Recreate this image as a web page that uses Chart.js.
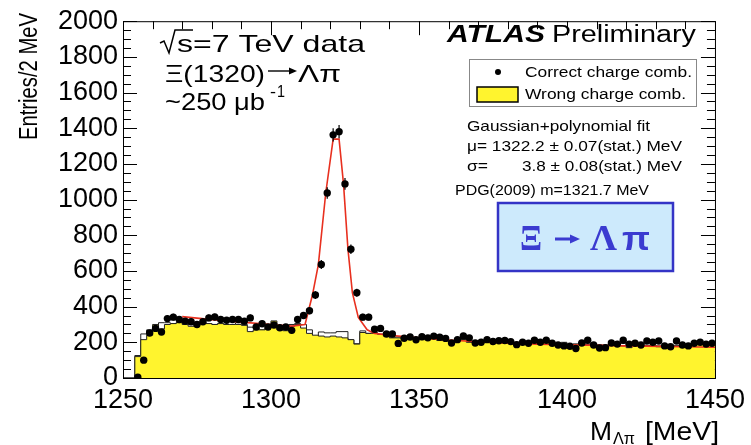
<!DOCTYPE html>
<html>
<head>
<meta charset="utf-8">
<script src="https://cdn.jsdelivr.net/npm/chart.js@4.4.0/dist/chart.umd.min.js"></script>
<style>
  html, body { margin: 0; padding: 0; background: #fff; }
  canvas { display: block; }
</style>
</head>
<body>
<canvas id="xiMass" width="751" height="445"></canvas>
<script>
// Lambda-pi invariant mass, 2 MeV bins between 1250 and 1450 MeV
const massMin = 1250, massMax = 1450, binWidth = 2;
const binCenters = Array.from({ length: 100 }, (_, i) => massMin + binWidth * (i + 0.5));

// Correct charge combinations (points)
const correctCharge = [
  0, 0, 5, 100, 252, 278, 258, 333, 341, 328,
  319, 315, 300, 315, 337, 342, 328, 324, 328, 328,
  319, 337, 286, 304, 286, 297, 282, 286, 267, 328,
  350, 377, 465, 636, 1037, 1363, 1381, 1088, 722, 478,
  341, 341, 273, 278, 247, 247, 194, 223, 230, 214,
  231, 225, 235, 228, 222, 196, 215, 236, 225, 196,
  200, 215, 205, 209, 210, 204, 187, 200, 195, 212,
  200, 212, 195, 185, 180, 178, 165, 196, 212, 185,
  168, 170, 196, 190, 212, 190, 195, 185, 207, 200,
  207, 180, 175, 207, 185, 180, 195, 200, 190, 195
];

// Wrong charge combinations (yellow histogram)
const wrongCharge = [
  0, 0, 0, 120, 215, 240, 300, 275, 300, 305,
  310, 300, 290, 300, 310, 305, 300, 305, 300, 300,
  300, 295, 260, 270, 270, 280, 320, 270, 265, 290,
  300, 280, 250, 240, 235, 230, 235, 230, 225, 215,
  190, 255, 250, 250, 245, 235, 225, 225, 215, 220,
  225, 215, 220, 220, 210, 210, 205, 215, 215, 200,
  205, 200, 205, 210, 200, 200, 195, 200, 205, 200,
  195, 190, 200, 195, 190, 195, 185, 190, 200, 185,
  190, 185, 180, 185, 190, 180, 170, 185, 190, 180,
  185, 175, 170, 165, 180, 185, 175, 185, 190, 195
];

// Wrong charge combinations, outline only
const wrongChargeLine = [
  0, 0, 0, 126, 247, 270, 285, 310, 310, 305,
  310, 300, 300, 300, 320, 305, 300, 305, 300, 300,
  310, 300, 285, 280, 270, 290, 300, 280, 270, 300,
  305, 300, 270, 214, 258, 253, 253, 260, 260, 214,
  192, 264, 250, 255, 245, 240, 225, 230, 215, 225,
  225, 220, 225, 220, 215, 210, 210, 215, 215, 205,
  205, 205, 205, 210, 205, 200, 195, 200, 205, 200,
  205, 190, 200, 195, 190, 200, 185, 190, 200, 190,
  195, 185, 185, 185, 190, 195, 170, 190, 190, 180,
  185, 180, 185, 180, 180, 185, 180, 185, 190, 195
];

// Gaussian + polynomial fit curve
const fitMass = [1270, 1280, 1290, 1300, 1307, 1311.5, 1314, 1316, 1318.5, 1321, 1323, 1324.5, 1326, 1327.5, 1329.5, 1332.5, 1335, 1340, 1350, 1360, 1370, 1380, 1390, 1400, 1420, 1440, 1450];
const fitEntries = [344, 327, 313, 300, 291, 300, 465, 636, 1037, 1339, 1339, 1088, 722, 478, 340, 270, 250, 240, 225, 213, 203, 195, 190, 186, 180, 175, 172];

const massTicks = [1250, 1300, 1350, 1400, 1450];
const entryTicks = [0, 200, 400, 600, 800, 1000, 1200, 1400, 1600, 1800, 2000];

const yellow = '#fff42e';
const sans = '"Liberation Sans", Arial, Helvetica, sans-serif';

// histogram as a stepped line through the bin edges
function stepPoints(values) {
  const pts = values.map((v, i) => ({ x: massMin + binWidth * i, y: v }));
  pts.push({ x: massMax, y: values[values.length - 1] });
  return pts;
}

// draw a string squeezed/stretched to a given width
function textAt(ctx, str, x, y, font, width, color) {
  ctx.font = font;
  ctx.fillStyle = color || '#000';
  ctx.textAlign = 'left';
  ctx.textBaseline = 'alphabetic';
  const w = ctx.measureText(str).width;
  ctx.save();
  ctx.translate(x, y);
  if (width) ctx.scale(width / w, 1);
  ctx.fillText(str, 0, 0);
  ctx.restore();
}

// right arrow drawn as a shaft and a filled head
function arrow(ctx, x0, x1, y, lw, head, color) {
  ctx.save();
  ctx.strokeStyle = color;
  ctx.fillStyle = color;
  ctx.lineWidth = lw;
  ctx.beginPath();
  ctx.moveTo(x0, y);
  ctx.lineTo(x1 - head, y);
  ctx.stroke();
  ctx.beginPath();
  ctx.moveTo(x1, y);
  ctx.lineTo(x1 - head, y - head * 0.45);
  ctx.lineTo(x1 - head, y + head * 0.45);
  ctx.closePath();
  ctx.fill();
  ctx.restore();
}

// inward tick marks on all four sides of the frame
const frameTicks = {
  id: 'frameTicks',
  beforeDatasetsDraw(chart) {
    const { ctx, chartArea: a, scales: { x, y } } = chart;
    ctx.save();
    ctx.strokeStyle = '#000';
    ctx.lineWidth = 1;
    ctx.beginPath();
    for (let v = 0; v <= 2000; v += 50) {
      const py = Math.round(y.getPixelForValue(v)) + 0.5;
      const len = v % 200 === 0 ? 14 : 8;
      ctx.moveTo(a.left, py); ctx.lineTo(a.left + len, py);
      ctx.moveTo(a.right, py); ctx.lineTo(a.right - len, py);
    }
    for (let m = massMin; m <= massMax; m += 10) {
      const px = Math.round(x.getPixelForValue(m)) + 0.5;
      const len = m % 50 === 0 ? 14 : 8;
      ctx.moveTo(px, a.top); ctx.lineTo(px, a.top + len);
      ctx.moveTo(px, a.bottom); ctx.lineTo(px, a.bottom - len);
    }
    ctx.stroke();
    ctx.restore();
  },
  afterDatasetsDraw(chart) {
    const { ctx, chartArea: a, scales: { x, y } } = chart;
    ctx.save();
    // statistical error bars on the points
    ctx.strokeStyle = '#000';
    ctx.lineWidth = 1.2;
    ctx.beginPath();
    correctCharge.forEach((v, i) => {
      if (v <= 0) return;
      const px = x.getPixelForValue(binCenters[i]);
      const e = Math.sqrt(v);
      ctx.moveTo(px, y.getPixelForValue(v + e));
      ctx.lineTo(px, y.getPixelForValue(v - e));
    });
    ctx.stroke();
    // frame
    ctx.lineWidth = 1;
    ctx.strokeRect(a.left + 0.5, a.top + 0.5, a.right - a.left, a.bottom - a.top);
    ctx.restore();
  }
};

// labels, legend and decay box
const annotations = {
  id: 'annotations',
  afterDraw(chart) {
    const ctx = chart.ctx;
    ctx.save();

    // y axis title
    ctx.save();
    ctx.translate(37, 140);
    ctx.rotate(-Math.PI / 2);
    textAt(ctx, 'Entries/2 MeV', 0, 0, '25px ' + sans, 127);
    ctx.restore();

    // x axis title
    textAt(ctx, 'M', 590, 440, '26px ' + sans, 22);
    textAt(ctx, '\u039B\u03C0', 613, 444, '16px ' + sans, 22);
    textAt(ctx, '[MeV]', 645, 440, '26px ' + sans, 74);

    // sqrt(s) = 7 TeV data
    ctx.strokeStyle = '#000';
    ctx.lineWidth = 1.5;
    ctx.beginPath();
    ctx.moveTo(160, 43); ctx.lineTo(164, 41); ctx.lineTo(169, 53); ctx.lineTo(175, 30); ctx.lineTo(193, 30);
    ctx.stroke();
    textAt(ctx, 's=7 TeV data', 177, 52, '24px ' + sans, 188);
    textAt(ctx, '\u039E(1320)', 165, 82, '24px ' + sans, 100);
    arrow(ctx, 268, 297, 71, 1.4, 8, '#000');
    textAt(ctx, '\u039B\u03C0', 298, 82, '24px ' + sans, 43);
    textAt(ctx, '~250 \u03BCb', 165, 110, '24px ' + sans, 100);
    textAt(ctx, '-', 270, 97, '16px ' + sans, 6);
    textAt(ctx, '1', 277, 97, '16px ' + sans, 8);

    // ATLAS Preliminary
    textAt(ctx, 'ATLAS', 447, 42, 'italic bold 23px ' + sans, 98);
    textAt(ctx, 'Preliminary', 552, 42, '23px ' + sans, 144);

    // legend
    ctx.fillStyle = '#fff';
    ctx.fillRect(469, 59, 227, 47);
    ctx.strokeStyle = '#888';
    ctx.lineWidth = 1;
    ctx.strokeRect(469.5, 59.5, 227, 47);
    ctx.fillStyle = '#000';
    ctx.beginPath();
    ctx.arc(498, 72, 3, 0, Math.PI * 2);
    ctx.fill();
    ctx.fillStyle = yellow;
    ctx.fillRect(477, 87, 41, 15);
    ctx.strokeStyle = '#000';
    ctx.lineWidth = 1.5;
    ctx.strokeRect(477, 87, 41, 15);
    textAt(ctx, 'Correct charge comb.', 525, 77, '14px ' + sans, 167);
    textAt(ctx, 'Wrong charge comb.', 525, 99, '14px ' + sans, 161);

    // fit results
    textAt(ctx, 'Gaussian+polynomial fit', 467, 131, '15px ' + sans, 183);
    textAt(ctx, '\u03BC= 1322.2 \u00B1 0.07(stat.) MeV', 467, 151, '15px ' + sans, 215);
    textAt(ctx, '\u03C3=', 467, 171, '15px ' + sans, 21);
    textAt(ctx, '3.8 \u00B1 0.08(stat.) MeV', 522, 171, '15px ' + sans, 160);
    textAt(ctx, 'PDG(2009) m=1321.7 MeV', 455, 195, '15px ' + sans, 194);

    // decay box
    ctx.fillStyle = '#cdeafc';
    ctx.fillRect(498, 203, 175, 68);
    ctx.strokeStyle = '#3434c6';
    ctx.lineWidth = 2.5;
    ctx.strokeRect(498, 203, 175, 68);
    const serif = 'bold 36px "Liberation Serif", "Times New Roman", serif';
    const blue = '#3b3bd0';
    textAt(ctx, '\u039E', 520, 250, serif, 22, blue);
    arrow(ctx, 555, 580, 239, 3, 10, blue);
    textAt(ctx, '\u039B', 590, 250, serif, 27, blue);
    textAt(ctx, '\u03C0', 622, 250, 'bold 34px ' + sans, 28, blue);

    ctx.restore();
  }
};

new Chart(document.getElementById('xiMass'), {
  type: 'scatter',
  data: {
    datasets: [
      {
        label: 'Correct charge comb.',
        data: binCenters.map((m, i) => ({ x: m, y: correctCharge[i] })),
        backgroundColor: '#000',
        borderWidth: 0,
        pointRadius: c => (c.raw && c.raw.y > 0 ? 3.7 : 0),
        order: 0
      },
      {
        type: 'line',
        label: 'Fit',
        data: fitMass.map((m, i) => ({ x: m, y: fitEntries[i] })),
        borderColor: '#e8301f',
        borderWidth: 1.6,
        pointRadius: 0,
        tension: 0,
        fill: false,
        order: 1
      },
      {
        type: 'line',
        label: 'Wrong charge comb.',
        data: stepPoints(wrongCharge),
        stepped: 'after',
        borderColor: '#222',
        borderWidth: 1,
        backgroundColor: yellow,
        fill: 'origin',
        pointRadius: 0,
        order: 2
      },
      {
        type: 'line',
        label: 'Wrong charge outline',
        data: stepPoints(wrongChargeLine),
        stepped: 'after',
        borderColor: '#222',
        borderWidth: 1,
        fill: false,
        pointRadius: 0,
        order: 3
      }
    ]
  },
  options: {
    responsive: false,
    animation: false,
    events: [],
    layout: { padding: { top: 14, right: 33, left: 0, bottom: 0 } },
    plugins: { legend: { display: false }, tooltip: { enabled: false } },
    scales: {
      x: {
        type: 'linear',
        min: massMin,
        max: massMax,
        afterFit: s => { s.height = 67; },
        afterBuildTicks: s => { s.ticks = massTicks.map(v => ({ value: v })); },
        ticks: { font: { family: sans, size: 27 }, color: '#000', padding: 6, maxRotation: 0, autoSkip: false, callback: v => String(v) },
        grid: { display: false, drawTicks: false },
        border: { display: false }
      },
      y: {
        min: 0,
        max: 2000,
        afterFit: s => { s.width = 123; },
        afterBuildTicks: s => { s.ticks = entryTicks.map(v => ({ value: v })); },
        ticks: { font: { family: sans, size: 27 }, color: '#000', padding: 5, autoSkip: false, callback: v => String(v) },
        grid: { display: false, drawTicks: false },
        border: { display: false }
      }
    }
  },
  plugins: [frameTicks, annotations]
});
</script>
</body>
</html>
